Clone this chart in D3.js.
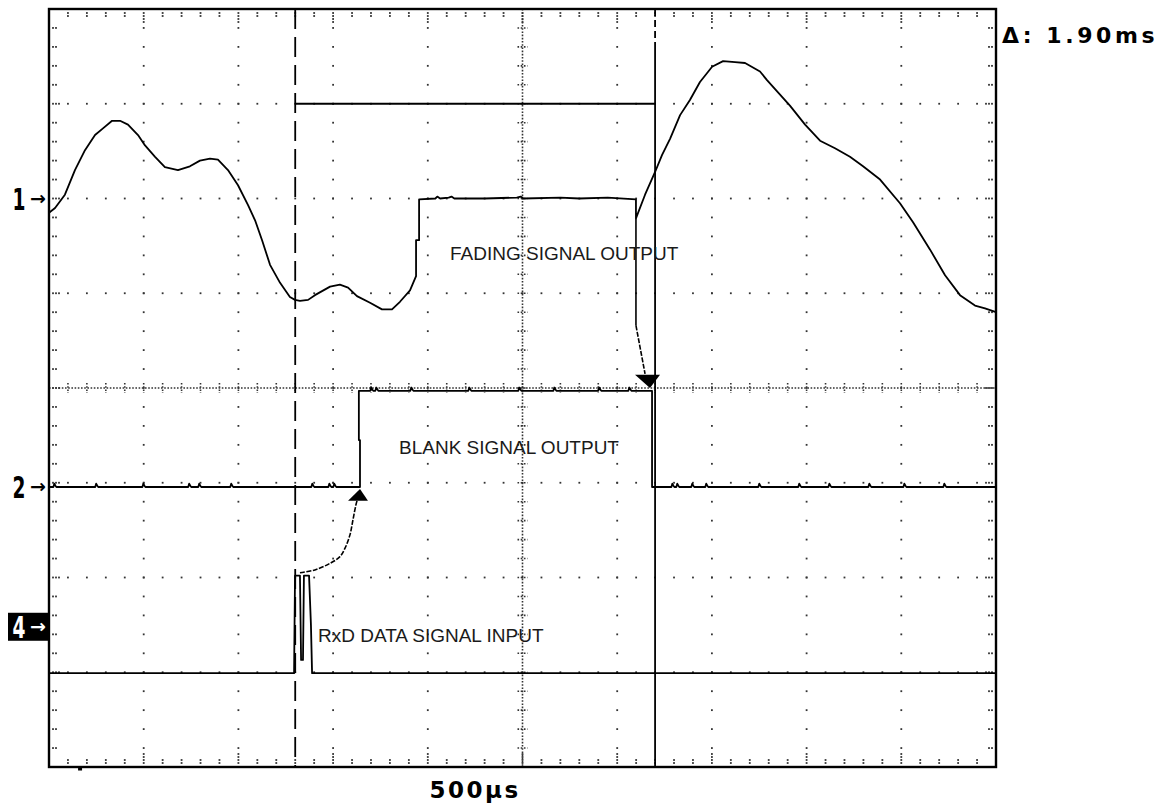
<!DOCTYPE html>
<html>
<head>
<meta charset="utf-8">
<script src="https://cdn.jsdelivr.net/npm/d3@7"></script>
<style>
  html, body { margin: 0; padding: 0; background: #fff; }
  svg { display: block; }
</style>
</head>
<body>
<svg id="scope" width="1166" height="803"></svg>
<script>
// Time base and screen layout of the scope display
const timePerDiv = 500;          // µs per horizontal division
const xDivs = 10, yDivs = 8;      // graticule divisions
const minorPerDiv = 5;

// Cursor positions (µs)
const cursorA = 1300;
const cursorB = 3200;
const cursorLevel = 3.0;          // level of the delta bar (div)

// Channel ground markers (div)
const channelMarkers = [
  { label: "1", level: 2.0, inverse: false },
  { label: "2", level: -1.05, inverse: false },
  { label: "4", level: -2.52, inverse: true }
];

// Channel 1: fading signal output  [time µs, level div]
const fadingSignal = [
  [0,1.85],[32,1.90],[84,2.04],[137,2.30],[190,2.51],[243,2.67],[285,2.74],
  [333,2.82],[375,2.82],[417,2.78],[470,2.67],[507,2.56],[560,2.44],[612,2.33],
  [681,2.30],[744,2.34],[797,2.40],[850,2.42],[892,2.41],[945,2.30],[998,2.14],
  [1051,1.93],[1088,1.77],[1125,1.56],[1167,1.30],[1220,1.11],[1272,0.96],
  [1299,0.93],[1325,0.92],[1368,0.93],[1404,0.98],[1484,1.07],[1536,1.09],
  [1579,1.06],[1626,0.97],[1695,0.90],[1758,0.83],[1811,0.83],[1853,0.91],
  [1906,1.03],[1938,1.18],[1938,1.56],[1954,1.56],[1954,1.99],[2040,2.00],
  [2050,2.02],[2065,2.00],[2110,2.01],[2125,2.02],[2140,2.00],[2300,2.00],
  [2470,2.01],[2490,2.02],[2505,2.00],[2700,2.01],[2800,2.00],[2950,2.01],
  [3099,1.99],[3099,1.79],[3147,2.04],[3200,2.28],[3237,2.46],[3279,2.63],
  [3332,2.88],[3384,3.04],[3437,3.23],[3501,3.39],[3559,3.45],[3622,3.44],
  [3675,3.43],[3754,3.34],[3791,3.25],[3849,3.12],[3912,2.98],[3992,2.78],
  [4071,2.61],[4150,2.53],[4229,2.44],[4298,2.34],[4388,2.20],[4493,1.95],
  [4562,1.75],[4652,1.46],[4731,1.19],[4810,0.98],[4889,0.87],[4942,0.84],
  [5000,0.80]
];

// Channel 2: blank signal output
const blankSignal = [
  [0,-1.045],[1642,-1.045],[1642,-0.55],[1636,-0.55],[1636,-0.03],
  [3184,-0.03],[3184,-1.045],[5000,-1.045]
];
const blankGlitches = [32,253,502,744,797,966,1394,1484,1510,1705,1732,1917,
  2223,2487,2672,2909,3068,3295,3321,3400,3474,3754,3965,4124,4335,4520,4731];
const glitchHeight = 0.035;

// Channel 4: RxD data signal input
const rxdSignal = [
  [0,-3.01],[1294,-3.01],[1299,-1.98],[1325,-1.98],[1331,-2.87],[1341,-2.87],
  [1346,-1.98],[1373,-1.98],[1383,-2.5],[1389,-3.01],[5000,-3.01]
];

// Hand-drawn annotation arrows
const arrowFadeToBlank = [[3099,1.79],[3099,0.66],[3147,0.15]];
const arrowFadeHead = [[3173,0.0],[3094,0.14],[3226,0.14]];
const arrowRxdToBlank = [[1325,-1.95],[1404,-1.92],[1484,-1.85],[1536,-1.78],
  [1563,-1.69],[1589,-1.55],[1605,-1.39],[1621,-1.23],[1632,-1.15]];
const arrowRxdHead = [[1642,-1.066],[1579,-1.19],[1684,-1.19]];

// Trace captions
const captions = [
  { text: "FADING SIGNAL OUTPUT", t: 2117, level: 1.35 },
  { text: "BLANK SIGNAL OUTPUT", t: 1848, level: -0.70 },
  { text: "RxD DATA SIGNAL INPUT", t: 1420, level: -2.68 }
];

const triggerTime = 164;

// ---------------------------------------------------------------
const svg = d3.select("#scope");
const frameL = 49, frameR = 996, frameT = 9, frameB = 767;

const x = d3.scaleLinear().domain([0, timePerDiv * xDivs]).range([frameL, frameR]);
const y = d3.scaleLinear().domain([-yDivs / 2, yDivs / 2]).range([frameB, frameT]);

const tMax = timePerDiv * xDivs;
const minorT = d3.range(0, tMax + 1e-6, timePerDiv / minorPerDiv);
const minorV = d3.range(-yDivs / 2, yDivs / 2 + 1e-6, 1 / minorPerDiv).map(v => +v.toFixed(2));
const isMajorT = t => Math.abs(t / timePerDiv - Math.round(t / timePerDiv)) < 1e-6;
const isMajorV = v => Math.abs(v - Math.round(v)) < 1e-6;

const grid = svg.append("g").attr("fill", "#333");
const dot = (px, py) => grid.append("rect")
  .attr("x", px - 0.9).attr("y", py - 0.9).attr("width", 1.8).attr("height", 1.8);

// dotted major grid lines
d3.range(-yDivs / 2 + 1, yDivs / 2).filter(k => k !== 0).forEach(k => {
  minorT.filter(t => t > 0 && t < tMax).forEach(t => dot(x(t), y(k)));
});
d3.range(1, xDivs).filter(j => j !== xDivs / 2).forEach(j => {
  minorV.filter(v => v > -yDivs / 2 && v < yDivs / 2).forEach(v => dot(x(j * timePerDiv), y(v)));
});

// centre axes: dense dots with cross ticks
const centre = svg.append("g").attr("stroke", "#333").attr("stroke-width", 1.6)
  .attr("stroke-dasharray", "1.6,1.6");
centre.append("line").attr("x1", frameL).attr("x2", frameR).attr("y1", y(0)).attr("y2", y(0));
centre.append("line").attr("x1", x(tMax / 2)).attr("x2", x(tMax / 2)).attr("y1", frameT).attr("y2", frameB);
minorT.filter(t => t > 0 && t < tMax).forEach(t => {
  centre.append("line").attr("x1", x(t)).attr("x2", x(t)).attr("y1", y(0) - 5).attr("y2", y(0) + 5);
});
minorV.filter(v => v > -yDivs / 2 && v < yDivs / 2).forEach(v => {
  centre.append("line").attr("x1", x(tMax / 2) - 5).attr("x2", x(tMax / 2) + 5).attr("y1", y(v)).attr("y2", y(v));
});

// border ticks
minorT.filter(t => t > 0 && t < tMax).forEach(t => {
  const n = isMajorT(t) ? 4 : 2;
  for (let i = 1; i <= n; i++) { dot(x(t), frameT + 1 + 3 * i); dot(x(t), frameB - 1 - 3 * i); }
});
minorV.filter(v => v > -yDivs / 2 && v < yDivs / 2).forEach(v => {
  const n = isMajorV(v) ? 3 : 2;
  for (let i = 1; i <= n; i++) { dot(frameL + 1 + 3 * i, y(v)); dot(frameR - 1 - 3 * i, y(v)); }
});

// frame
svg.append("rect").attr("x", frameL).attr("y", frameT)
  .attr("width", frameR - frameL).attr("height", frameB - frameT)
  .attr("fill", "none").attr("stroke", "#000").attr("stroke-width", 2.4);

// trigger position mark below the frame
svg.append("rect").attr("x", x(triggerTime) - 2).attr("y", frameB + 1)
  .attr("width", 4).attr("height", 2.5).attr("fill", "#000");

// cursors
const cur = svg.append("g").attr("stroke", "#000").attr("fill", "none");
cur.append("line").attr("x1", x(cursorA)).attr("x2", x(cursorA))
  .attr("y1", frameT).attr("y2", frameB).attr("stroke-width", 1.8)
  .attr("stroke-dasharray", "20,8");
cur.append("line").attr("x1", x(cursorB)).attr("x2", x(cursorB))
  .attr("y1", frameT).attr("y2", y(3.64)).attr("stroke-width", 1.8)
  .attr("stroke-dasharray", "7,4");
cur.append("line").attr("x1", x(cursorB)).attr("x2", x(cursorB))
  .attr("y1", y(3.64)).attr("y2", frameB).attr("stroke-width", 1.8);
cur.append("line").attr("x1", x(cursorA)).attr("x2", x(cursorB))
  .attr("y1", y(cursorLevel)).attr("y2", y(cursorLevel)).attr("stroke-width", 1.8);

// insert small noise bumps into a level trace, keeping edge order intact
function addGlitches(points, glitches, h) {
  const out = [];
  const gl = glitches.slice().sort((a, b) => a - b);
  let gi = 0;
  for (let i = 0; i < points.length; i++) {
    const p = points[i];
    while (gi < gl.length && gl[gi] + 9 < p[0]) {
      const prev = out[out.length - 1];
      const lv = prev[1];
      const t = gl[gi];
      if (t - 9 > prev[0]) out.push([t - 9, lv], [t - 4, lv + h], [t + 2, lv + h * 0.4], [t + 7, lv]);
      gi++;
    }
    out.push(p);
  }
  return out;
}

// traces
const line = d3.line().x(d => x(d[0])).y(d => y(d[1]));
const traces = svg.append("g").attr("fill", "none").attr("stroke", "#000")
  .attr("stroke-width", 1.8).attr("stroke-linejoin", "round");
traces.append("path").attr("d", line(fadingSignal));
traces.append("path").attr("d", line(addGlitches(blankSignal, blankGlitches, glitchHeight)));
traces.append("path").attr("d", line(rxdSignal));

// annotation arrows
const curve = d3.line().x(d => x(d[0])).y(d => y(d[1])).curve(d3.curveCatmullRom);
const ann = svg.append("g").attr("stroke", "#000").attr("fill", "none").attr("stroke-width", 1.6);
ann.append("path").attr("d", line(arrowFadeToBlank.slice(0, 2)));
ann.append("path").attr("d", line(arrowFadeToBlank.slice(1))).attr("stroke-dasharray", "5,1.5");
ann.append("path").attr("d", curve(arrowRxdToBlank)).attr("stroke-dasharray", "5,1.5");
svg.append("path").attr("d", line(arrowFadeHead) + "Z").attr("fill", "#000");
svg.append("path").attr("d", line(arrowRxdHead) + "Z").attr("fill", "#000");

// captions
svg.append("g").selectAll("text").data(captions).join("text")
  .attr("x", d => x(d.t)).attr("y", d => y(d.level))
  .attr("font-family", "'Liberation Sans', Arial, sans-serif")
  .attr("font-size", 19).attr("fill", "#1a1a1a")
  .text(d => d.text);

// channel markers: tall narrow digit followed by a small arrow
const mk = svg.append("g").attr("font-family", "'DejaVu Sans', sans-serif")
  .attr("font-weight", "bold");
channelMarkers.forEach(m => {
  const cy = y(m.level);
  const colour = m.inverse ? "#fff" : "#000";
  if (m.inverse) {
    mk.append("rect").attr("x", 8).attr("y", cy - 14).attr("width", frameL - 8).attr("height", 28).attr("fill", "#000");
  }
  mk.append("text")
    .attr("transform", `translate(19,${cy + 11}) scale(0.62,1)`)
    .attr("text-anchor", "middle").attr("font-size", 30).attr("fill", colour)
    .text(m.label);
  mk.append("text").attr("x", frameL - 3).attr("y", cy + 6)
    .attr("text-anchor", "end").attr("font-size", 19).attr("fill", colour)
    .text("→");
});

// delta readout and timebase label
const fmt = d3.format(".2f");
svg.append("text").attr("x", frameR + 6).attr("y", 43)
  .attr("font-family", "'DejaVu Sans', sans-serif").attr("font-weight", "bold")
  .attr("font-size", 22).attr("letter-spacing", 3.6).attr("fill", "#000")
  .text("Δ: " + fmt((cursorB - cursorA) / 1000) + "ms");
svg.append("text").attr("x", x(2250)).attr("y", 798)
  .attr("text-anchor", "middle")
  .attr("font-family", "'DejaVu Sans', sans-serif").attr("font-weight", "bold")
  .attr("font-size", 23).attr("letter-spacing", 2.5).attr("fill", "#000")
  .text(timePerDiv + "µs");
</script>
</body>
</html>
